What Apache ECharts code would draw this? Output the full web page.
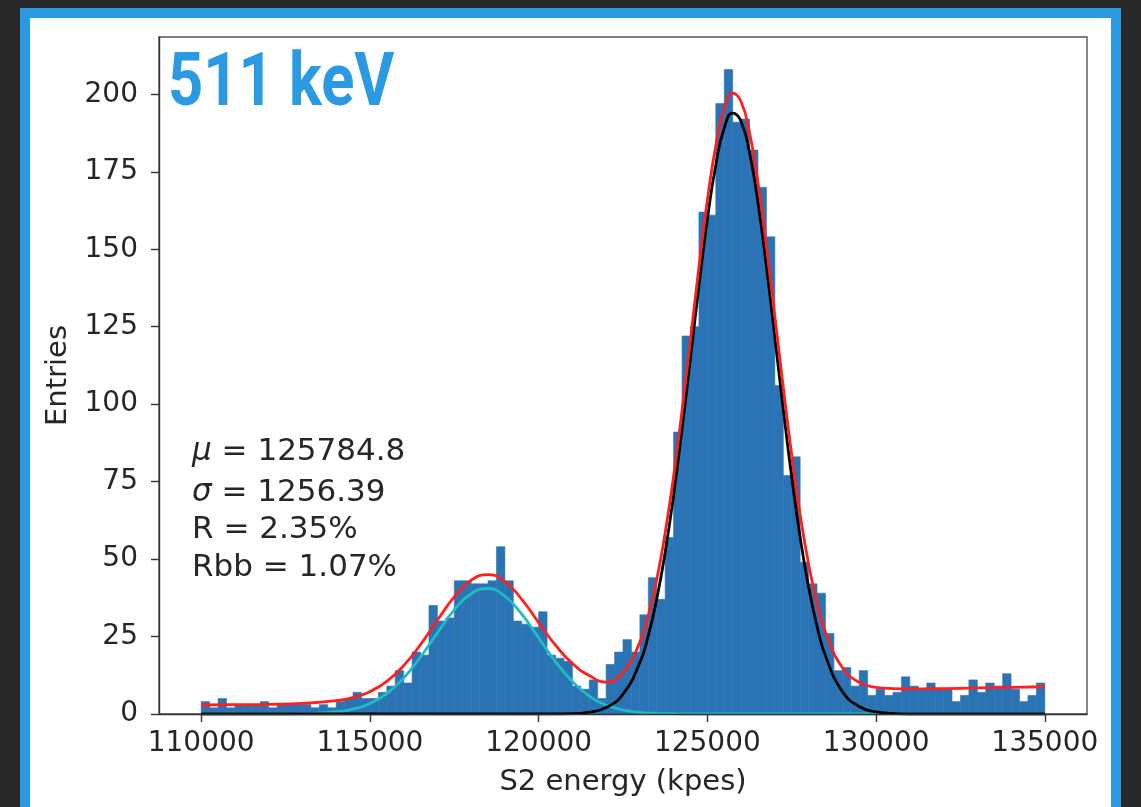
<!DOCTYPE html>
<html>
<head>
<meta charset="utf-8">
<script src="https://cdn.jsdelivr.net/npm/echarts@6/dist/echarts.min.js"></script>
<style>
  html, body { margin: 0; padding: 0; background: #28292b; overflow: hidden; }
  #frame {
    position: absolute; left: 20px; top: 8px; width: 1081px; height: 830px;
    border: 10px solid #2a9be2; border-bottom: none; background: #ffffff;
  }
  #chart { position: absolute; left: 0; top: 0; width: 1141px; height: 807px; }
</style>
</head>
<body>
<div id="frame"></div>
<div id="chart"></div>
<script>
// Histogram of S2 energy: 100 bins of 250 kpes from 110000 to 135000
const HIST_START = 110000;
const BIN_WIDTH = 250;
const counts = [
  4, 2, 5, 2, 3, 3, 3, 4, 2, 3,
  3, 3, 3, 2, 3, 2, 4, 5, 7, 5,
  5, 7, 9, 14, 10, 20, 19, 35, 30, 31,
  43, 43, 42, 42, 43, 54, 43, 30, 29, 28,
  33, 19, 18, 17, 9, 8, 11, 5, 16, 20,
  24, 20, 32, 44, 37, 57, 91, 122, 125, 162,
  161, 197, 208, 191, 192, 182, 170, 154, 106, 77,
  83, 49, 42, 39, 26, 14, 15, 9, 14, 6,
  8, 6, 7, 12, 9, 8, 10, 8, 8, 4,
  6, 11, 7, 10, 9, 13, 8, 4, 6, 10
];

// Fit curves sampled along the energy axis
const fitX = [
  110000, 111000, 112000, 113000, 114000, 114500, 115000, 115500, 116000, 116500,
  117000, 117500, 118000, 118500, 119000, 119500, 120000, 120500, 121000, 121500,
  122000, 122500, 123000, 123250, 123500, 123750, 124000, 124250, 124500, 124750,
  125000, 125250, 125500, 125750, 126000, 126250, 126500, 126750, 127000, 127250,
  127500, 127750, 128000, 128250, 128500, 129000, 129500, 130000, 130500, 131000,
  132000, 133000, 134000, 135000
];
// total fit (both peaks + background)
const totalFit = [
  2.9, 3.0, 3.1, 3.4, 4.3, 5.3, 7.2, 10.5, 15.6, 22.4,
  30.3, 37.8, 43.2, 45.0, 42.7, 37.0, 29.5, 22.2, 16.3, 12.4,
  10.3, 13.4, 23.2, 31.8, 43.4, 58.5, 76.8, 98.0, 121.0, 144.2,
  165.8, 183.4, 195.4, 200.4, 197.6, 187.6, 171.5, 151.0, 128.4, 105.4,
  83.6, 64.3, 48.4, 35.8, 26.4, 15.0, 10.2, 8.6, 8.2, 8.1,
  8.2, 8.4, 8.6, 8.8
];
// photopeak gaussian
const photopeakFit = [
  0, 0, 0, 0, 0, 0, 0, 0, 0, 0,
  0, 0, 0, 0, 0, 0, 0, 0, 0.1, 0.6,
  2.1, 6.4, 16.6, 25.3, 37.1, 52.2, 70.7, 91.9, 114.9, 138.1,
  159.6, 177.2, 189.1, 193.9, 191.2, 181.1, 165.0, 144.4, 121.5, 98.3,
  76.4, 57.0, 41.0, 28.3, 18.8, 7.3, 2.4, 0.7, 0.2, 0,
  0, 0, 0, 0
];
// lower-energy (escape) peak gaussian
const escapeFit = [
  0, 0, 0, 0.1, 0.7, 1.6, 3.4, 6.6, 11.6, 18.4,
  26.2, 33.6, 38.8, 40.5, 38.0, 32.2, 24.6, 16.9, 10.5, 5.8,
  2.9, 1.3, 0.5, 0.3, 0.2, 0.1, 0.1, 0, 0, 0,
  0, 0, 0, 0, 0, 0, 0, 0, 0, 0,
  0, 0, 0, 0, 0, 0, 0, 0, 0, 0,
  0, 0, 0, 0
];

const xTicks = [110000, 115000, 120000, 125000, 130000, 135000];
const yTicks = [0, 25, 50, 75, 100, 125, 150, 175, 200];

const fitLines = [
  'μ = 125784.8',
  'σ = 1256.39',
  'R = 2.35%',
  'Rbb = 1.07%'
];

const TEXT = '#262626';
const AXIS = '#333333';
const BAR = '#2a74b6';

const histData = counts.map((c, i) => [HIST_START + i * BIN_WIDTH, HIST_START + (i + 1) * BIN_WIDTH, c]);
const pairs = (ys) => fitX.map((x, i) => [x, ys[i]]);

function lineSeries(name, ys, color, z) {
  return {
    name, type: 'line', data: pairs(ys), showSymbol: false, smooth: 0.5,
    lineStyle: { color, width: 2.8 }, z, silent: true, animation: false
  };
}

const chart = echarts.init(document.getElementById('chart'), null, { renderer: 'canvas' });

const annY = [452, 493, 530, 568];
const annotations = fitLines.map((t, i) => {
  const greek = t[0] === 'μ' || t[0] === 'σ';
  return {
    type: 'text', x: 192, y: annY[i], z: 60,
    style: {
      text: greek ? '{g|' + t[0] + '}' + t.slice(1) : t,
      rich: { g: { fontStyle: 'italic', fontFamily: 'DejaVu Sans', fontSize: 31, fill: TEXT } },
      fontFamily: 'DejaVu Sans', fontSize: 31, fill: TEXT,
      verticalAlign: 'middle', textVerticalAlign: 'middle'
    }
  };
});

chart.setOption({
  animation: false,
  grid: {
    left: 159, right: 54, top: 37, bottom: 93,
    show: true, borderColor: '#555555', borderWidth: 1.4, backgroundColor: 'transparent'
  },
  xAxis: {
    type: 'value', min: 108750, max: 136250, z: 8,
    axisLine: { show: true, onZero: false, lineStyle: { color: AXIS, width: 1.4 } },
    axisTick: { show: true, customValues: xTicks, length: 8, lineStyle: { color: AXIS, width: 1.4 } },
    axisLabel: {
      customValues: xTicks, margin: 16, color: TEXT,
      fontFamily: 'DejaVu Sans', fontSize: 28, formatter: (v) => String(v)
    },
    splitLine: { show: false },
    name: 'S2 energy (kpes)', nameLocation: 'middle', nameGap: 54,
    nameTextStyle: { fontFamily: 'DejaVu Sans', fontSize: 29, color: TEXT }
  },
  yAxis: {
    type: 'value', min: 0, max: 218.5, z: 8,
    axisLine: { show: true, lineStyle: { color: AXIS, width: 1.4 } },
    axisTick: { show: true, customValues: yTicks, length: 8, lineStyle: { color: AXIS, width: 1.4 } },
    axisLabel: {
      customValues: yTicks, margin: 21, color: TEXT,
      fontFamily: 'DejaVu Sans', fontSize: 28, formatter: (v) => String(v)
    },
    splitLine: { show: false },
    name: 'Entries', nameLocation: 'middle', nameGap: 86, nameRotate: 90,
    nameTextStyle: { fontFamily: 'DejaVu Sans', fontSize: 29, color: TEXT }
  },
  graphic: [
    {
      type: 'text', x: 168, y: 86, scaleX: 0.83, z: 60,
      style: {
        text: '511 keV', fontFamily: 'Roboto', fontWeight: 'bold', fontSize: 74,
        fill: '#2a9be2', verticalAlign: 'middle', textVerticalAlign: 'middle'
      }
    }
  ].concat(annotations),
  series: [
    {
      name: 'S2 energy', type: 'custom', data: histData, z: 2, silent: true,
      encode: { x: [0, 1], y: 2 },
      renderItem: (params, api) => {
        const top = api.coord([api.value(0), api.value(2)]);
        const base = api.coord([api.value(1), 0]);
        return {
          type: 'rect',
          shape: { x: top[0], y: top[1], width: base[0] - top[0], height: base[1] - top[1] },
          style: { fill: BAR, stroke: BAR, lineWidth: 0.6 }
        };
      }
    },
    lineSeries('escape peak', escapeFit, '#1fbcc4', 3),
    lineSeries('photopeak', photopeakFit, '#000000', 4),
    lineSeries('total', totalFit, '#ff1f1f', 5)
  ]
});
</script>
</body>
</html>
